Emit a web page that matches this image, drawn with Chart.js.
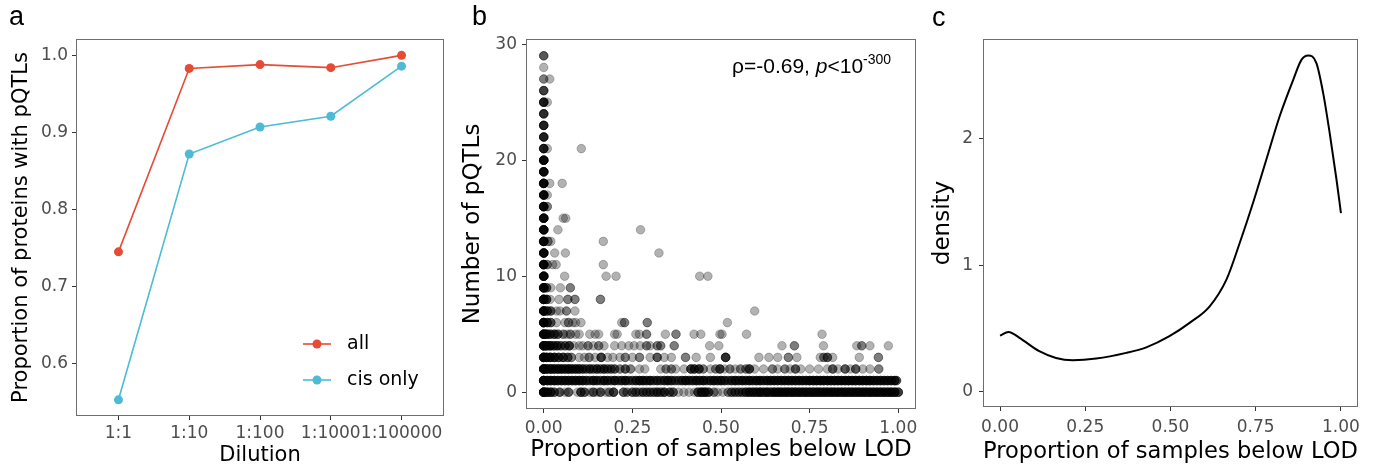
<!DOCTYPE html>
<html>
<head>
<meta charset="utf-8">
<script src="https://cdn.jsdelivr.net/npm/chart.js@4.4.1/dist/chart.umd.min.js"></script>
<style>
  html, body { margin: 0; padding: 0; background: #fff; }
  body { width: 1385px; height: 473px; position: relative; overflow: hidden; }
  .panel { position: absolute; top: 0; height: 473px; }
  .tag { position: absolute; font-family: "Liberation Sans", Arial, sans-serif; font-size: 27px; line-height: 27px; color: #000; }
  .note { position: absolute; font-family: "Liberation Sans", Arial, sans-serif; font-size: 21px; line-height: 21px; white-space: nowrap; color: #000; }
  .note .sup { font-size: 14px; position: relative; top: -9px; }
</style>
</head>
<body>
<div class="panel" style="left:0;width:455px"><canvas id="chartA"></canvas></div>
<div class="panel" style="left:455px;width:470px"><canvas id="chartB"></canvas></div>
<div class="panel" style="left:925px;width:460px"><canvas id="chartC"></canvas></div>

<div class="tag" style="left:9px;top:3px">a</div>
<div class="tag" style="left:472px;top:3px">b</div>
<div class="tag" style="left:932px;top:4px">c</div>
<div class="note" style="left:732px;top:55px">ρ=-0.69, <i>p</i>&lt;10<span class="sup">-300</span></div>

<script>
// Panel a: proportion of proteins with pQTLs by dilution
const dilutions = ['1:1', '1:10', '1:100', '1:1000', '1:100000'];
const allProp = [0.745, 0.983, 0.988, 0.984, 1.0];
const cisProp = [0.553, 0.872, 0.907, 0.921, 0.986];
const propTicks = [0.6, 0.7, 0.8, 0.9, 1.0];

// Panel b: number of pQTLs vs proportion below LOD
// index = number of pQTLs, each entry [proportion below LOD, proteins at that spot]
const pqtlRows = [
  /* 0 */ [[0, 12], [0.01, 6], [0.02, 5], [0.03, 3], [0.045, 3], [0.06, 1], [0.07, 3], [0.095, 1], [0.105, 4], [0.115, 3],
    [0.13, 1], [0.14, 3], [0.15, 1], [0.16, 3], [0.175, 1], [0.185, 2], [0.197, 4], [0.225, 3], [0.235, 2], [0.25, 3],
    [0.26, 3], [0.27, 2], [0.28, 3], [0.29, 3], [0.3, 3], [0.31, 3], [0.32, 4], [0.33, 3], [0.34, 4], [0.355, 3],
    [0.365, 3], [0.38, 1], [0.395, 1], [0.41, 1], [0.425, 1], [0.435, 4], [0.445, 6], [0.455, 6], [0.465, 4], [0.48, 2],
    [0.49, 1], [0.505, 1], [0.52, 2], [0.53, 3], [0.54, 3], [0.55, 3], [0.56, 3], [0.57, 4], [0.58, 5], [0.59, 5],
    [0.6, 5], [0.61, 6], [0.62, 5], [0.63, 6], [0.64, 5], [0.65, 6], [0.66, 6], [0.67, 6], [0.68, 6], [0.69, 6],
    [0.7, 6], [0.71, 6], [0.72, 6], [0.73, 6], [0.74, 6], [0.75, 6], [0.76, 6], [0.77, 6], [0.78, 6], [0.79, 6],
    [0.8, 6], [0.81, 6], [0.82, 6], [0.83, 6], [0.84, 6], [0.85, 6], [0.86, 6], [0.87, 6], [0.88, 6], [0.89, 6],
    [0.9, 6], [0.91, 6], [0.92, 6], [0.93, 6], [0.94, 6], [0.95, 6], [0.96, 6], [0.97, 6], [0.98, 6], [0.99, 6], [1.0, 4]],
  /* 1 */ [[0, 12], [0.01, 6], [0.02, 6], [0.03, 6], [0.04, 5], [0.05, 5], [0.06, 5], [0.07, 5], [0.08, 5], [0.09, 5],
    [0.1, 5], [0.11, 5], [0.12, 4], [0.13, 3], [0.14, 5], [0.15, 4], [0.16, 3], [0.17, 5], [0.18, 4], [0.19, 3],
    [0.2, 5], [0.21, 3], [0.22, 4], [0.23, 5], [0.24, 3], [0.25, 3], [0.26, 4], [0.27, 5], [0.28, 5], [0.29, 4],
    [0.3, 5], [0.31, 3], [0.32, 4], [0.33, 3], [0.34, 4], [0.35, 5], [0.36, 4], [0.37, 3], [0.38, 3], [0.39, 4],
    [0.4, 5], [0.41, 4], [0.42, 4], [0.43, 5], [0.44, 4], [0.45, 5], [0.46, 3], [0.47, 4], [0.48, 5], [0.49, 4],
    [0.5, 5], [0.51, 4], [0.52, 3], [0.53, 4], [0.54, 5], [0.55, 4], [0.56, 5], [0.57, 4], [0.58, 5], [0.59, 4],
    [0.6, 5], [0.61, 5], [0.62, 4], [0.63, 5], [0.64, 5], [0.65, 5], [0.66, 5], [0.67, 5], [0.68, 5], [0.69, 5],
    [0.7, 5], [0.71, 5], [0.72, 5], [0.73, 5], [0.74, 5], [0.75, 6], [0.76, 6], [0.77, 6], [0.78, 6], [0.79, 6],
    [0.8, 6], [0.81, 6], [0.82, 6], [0.83, 6], [0.84, 6], [0.85, 6], [0.86, 6], [0.87, 6], [0.88, 6], [0.89, 6],
    [0.9, 6], [0.91, 6], [0.92, 6], [0.93, 5], [0.94, 5], [0.95, 5], [0.96, 5], [0.97, 5], [0.98, 5], [0.99, 5], [0.995, 3]],
  /* 2 */ [[0, 12], [0.01, 7], [0.02, 7], [0.03, 6], [0.04, 6], [0.05, 6], [0.06, 5], [0.07, 6], [0.08, 5], [0.09, 5],
    [0.1, 5], [0.11, 4], [0.12, 3], [0.13, 4], [0.14, 3], [0.15, 4], [0.16, 3], [0.17, 4], [0.18, 3], [0.19, 3],
    [0.2, 3], [0.215, 2], [0.23, 3], [0.245, 2], [0.27, 1], [0.285, 1], [0.33, 1], [0.345, 2], [0.36, 2], [0.372, 1],
    [0.396, 1], [0.415, 4], [0.425, 4], [0.438, 4], [0.45, 2], [0.47, 1], [0.485, 2], [0.497, 4], [0.51, 1], [0.525, 2],
    [0.54, 1], [0.555, 2], [0.57, 2], [0.58, 4], [0.595, 1], [0.62, 1], [0.645, 2], [0.66, 1], [0.68, 2], [0.695, 1],
    [0.71, 3], [0.725, 1], [0.75, 1], [0.775, 1], [0.8, 1], [0.815, 3], [0.83, 1], [0.85, 3], [0.865, 1], [0.88, 3],
    [0.9, 1], [0.92, 1], [0.945, 2]],
  /* 3 */ [[0, 10], [0.008, 6], [0.018, 6], [0.03, 5], [0.042, 4], [0.055, 4], [0.068, 3], [0.078, 2], [0.1, 1], [0.115, 1],
    [0.128, 2], [0.145, 1], [0.162, 4], [0.18, 1], [0.195, 1], [0.215, 1], [0.23, 2], [0.25, 1], [0.27, 2], [0.3, 1],
    [0.32, 3], [0.34, 1], [0.36, 1], [0.4, 2], [0.43, 1], [0.47, 1], [0.513, 5], [0.607, 1], [0.635, 1], [0.66, 1],
    [0.69, 2], [0.714, 1], [0.78, 1], [0.79, 2], [0.8, 3], [0.815, 1], [0.89, 1], [0.944, 2]],
  /* 4 */ [[0, 10], [0.008, 6], [0.018, 6], [0.028, 4], [0.038, 4], [0.048, 3], [0.06, 3], [0.072, 4], [0.085, 1], [0.1, 1],
    [0.11, 1], [0.125, 2], [0.14, 1], [0.155, 2], [0.17, 1], [0.2, 1], [0.22, 1], [0.24, 1], [0.255, 1], [0.272, 1],
    [0.29, 2], [0.3, 1], [0.32, 2], [0.33, 2], [0.368, 2], [0.468, 1], [0.494, 1], [0.672, 1], [0.707, 2], [0.789, 1],
    [0.883, 1], [0.897, 2], [0.92, 1], [0.972, 1]],
  /* 5 */ [[0, 10], [0.008, 6], [0.018, 4], [0.03, 4], [0.04, 3], [0.055, 2], [0.065, 1], [0.075, 2], [0.09, 1], [0.1, 1],
    [0.13, 1], [0.145, 1], [0.155, 1], [0.2, 1], [0.207, 1], [0.26, 1], [0.27, 1], [0.29, 2], [0.343, 1], [0.373, 2],
    [0.424, 1], [0.443, 1], [0.497, 1], [0.503, 1], [0.572, 1], [0.785, 1]],
  /* 6 */ [[0, 10], [0.01, 4], [0.02, 3], [0.036, 1], [0.06, 1], [0.07, 2], [0.082, 1], [0.09, 1], [0.105, 1], [0.22, 1],
    [0.228, 2], [0.292, 2], [0.518, 1]],
  /* 7 */ [[0, 10], [0.01, 4], [0.02, 3], [0.036, 1], [0.046, 1], [0.064, 2], [0.088, 1], [0.595, 1]],
  /* 8 */ [[0, 10], [0.008, 4], [0.018, 1], [0.043, 1], [0.068, 2], [0.088, 2], [0.16, 2]],
  /* 9 */ [[0, 10], [0.008, 3], [0.02, 1], [0.047, 1], [0.075, 2]],
  /* 10 */ [[0, 9], [0.059, 1], [0.176, 1], [0.204, 1], [0.44, 1], [0.463, 1]],
  /* 11 */ [[0, 9], [0.01, 2], [0.025, 1], [0.035, 1], [0.168, 1]],
  /* 12 */ [[0, 9], [0.031, 1], [0.061, 1], [0.325, 1]],
  /* 13 */ [[0, 9], [0.012, 2], [0.02, 1], [0.168, 1]],
  /* 14 */ [[0, 9], [0.04, 1], [0.273, 1]],
  /* 15 */ [[0, 9], [0.055, 1], [0.062, 1]],
  /* 16 */ [[0, 9], [0.01, 2]],
  /* 17 */ [[0, 9], [0.01, 1]],
  /* 18 */ [[0, 9], [0.017, 1], [0.052, 1]],
  /* 19 */ [[0, 9]],
  /* 20 */ [[0, 9]],
  /* 21 */ [[0, 6], [0.01, 1], [0.106, 1]],
  /* 22 */ [[0, 6]],
  /* 23 */ [[0, 6]],
  /* 24 */ [[0, 5]],
  /* 25 */ [[0, 6], [0.01, 1]],
  /* 26 */ [[0, 4]],
  /* 27 */ [[0, 2], [0.017, 1]],
  /* 28 */ [[0, 1]],
  /* 29 */ [[0, 3]]
];
const lodTicks = [0, 0.25, 0.5, 0.75, 1];
const pqtlTicks = [0, 10, 20, 30];

// Panel c: density of proportion below LOD
const densityX = [0, 0.025, 0.057, 0.115, 0.164, 0.213, 0.282, 0.37, 0.429, 0.497, 0.556, 0.615, 0.664,
  0.703, 0.742, 0.781, 0.82, 0.86, 0.884, 0.904, 0.928, 0.948, 0.967, 0.987, 1.0];
const densityY = [0.445, 0.474, 0.427, 0.321, 0.268, 0.25, 0.263, 0.308, 0.352, 0.44, 0.545, 0.676, 0.887,
  1.177, 1.493, 1.835, 2.177, 2.467, 2.625, 2.659, 2.6, 2.36, 2.045, 1.677, 1.414];
const densityTicks = [0, 1, 2];

const tickFont = { family: 'DejaVu Sans', size: 17 };
const tickGray = '#4d4d4d';

// full box round the plotting area (theme_bw style)
const panelBorder = {
    id: 'panelBorder',
    afterDatasetsDraw(chart) {
        const { ctx, chartArea: a } = chart;
        ctx.save();
        ctx.strokeStyle = '#6e6e6e';
        ctx.lineWidth = 1;
        ctx.strokeRect(Math.round(a.left) + 0.5, Math.round(a.top) + 0.5,
            Math.round(a.right - a.left) - 1, Math.round(a.bottom - a.top) - 1);
        ctx.restore();
    }
};

// legend drawn inside panel a
const insideLegend = {
    id: 'insideLegend',
    afterDraw(chart, args, opts) {
        const ctx = chart.ctx;
        ctx.save();
        chart.data.datasets.forEach((ds, i) => {
            const y = opts.y + i * opts.gap;
            ctx.strokeStyle = ds.borderColor;
            ctx.lineWidth = 1.6;
            ctx.beginPath();
            ctx.moveTo(opts.x, y);
            ctx.lineTo(opts.x + 28, y);
            ctx.stroke();
            ctx.fillStyle = ds.borderColor;
            ctx.beginPath();
            ctx.arc(opts.x + 14, y, 4.5, 0, Math.PI * 2);
            ctx.fill();
            ctx.fillStyle = '#000';
            ctx.font = '19px "DejaVu Sans"';
            ctx.textBaseline = 'middle';
            ctx.fillText(ds.label, opts.x + 44, y);
        });
        ctx.restore();
    }
};

function axisBase(ticksList, fmt, pad) {
    return {
        type: 'linear',
        afterBuildTicks: s => { s.ticks = ticksList.map(v => ({ value: v })); },
        ticks: { callback: fmt, autoSkip: false, maxRotation: 0, color: tickGray, font: tickFont, padding: pad },
        grid: { drawOnChartArea: false, tickLength: 4, color: '#333' },
        border: { display: false }
    };
}

function axisTitle(text, size, padding) {
    return { display: true, text: text, color: '#000', font: { family: 'DejaVu Sans', size: size }, padding: padding };
}

Chart.defaults.animation = false;
Chart.defaults.plugins.legend.display = false;
Chart.defaults.plugins.tooltip.enabled = false;

// Panel a
new Chart(document.getElementById('chartA'), {
    type: 'line',
    data: {
        datasets: [
            { label: 'all', data: allProp.map((v, i) => ({ x: i + 1, y: v })), borderColor: '#E64B35', backgroundColor: '#E64B35',
              borderWidth: 1.6, pointRadius: 4.5, pointBorderWidth: 0, order: 1 },
            { label: 'cis only', data: cisProp.map((v, i) => ({ x: i + 1, y: v })), borderColor: '#4DBBD5', backgroundColor: '#4DBBD5',
              borderWidth: 1.6, pointRadius: 4.5, pointBorderWidth: 0, order: 0 }
        ]
    },
    options: {
        responsive: true,
        maintainAspectRatio: false,
        layout: { padding: { top: 39, right: 11, left: 0, bottom: 0 } },
        scales: {
            x: Object.assign(axisBase(dilutions.map((d, i) => i + 1), v => dilutions[v - 1], 3), {
                min: 0.4, max: 5.6,
                afterFit: s => { s.height = 57; },
                title: axisTitle('Dilution', 21, { top: 0, bottom: 5 })
            }),
            y: Object.assign(axisBase(propTicks, v => v.toFixed(1), 4), {
                min: 0.532, max: 1.0212,
                afterFit: s => { s.width = 76; },
                title: axisTitle('Proportion of proteins with pQTLs', 21, { top: 9, bottom: 0 })
            })
        },
        plugins: { insideLegend: { x: 303, y: 344, gap: 36 } }
    },
    plugins: [panelBorder, insideLegend]
});

// Panel b
const scatterPoints = [];
pqtlRows.forEach((row, count) => {
    row.forEach(([lod, n]) => {
        for (let k = 0; k < n; k++) scatterPoints.push({ x: lod, y: count });
    });
});

new Chart(document.getElementById('chartB'), {
    type: 'scatter',
    data: {
        datasets: [{
            data: scatterPoints,
            backgroundColor: 'rgba(0,0,0,0.3)',
            borderColor: 'rgba(0,0,0,0.3)',
            borderWidth: 0.8,
            pointRadius: 4.3
        }]
    },
    options: {
        responsive: true,
        maintainAspectRatio: false,
        layout: { padding: { top: 39, right: 9, left: 0, bottom: 0 } },
        scales: {
            x: Object.assign(axisBase(lodTicks, v => v.toFixed(2), 5), {
                min: -0.05, max: 1.05,
                afterFit: s => { s.height = 64; },
                title: axisTitle('Proportion of samples below LOD', 23, { top: 0, bottom: 9 })
            }),
            y: Object.assign(axisBase(pqtlTicks, v => String(v), 5), {
                min: -1.45, max: 30.45,
                afterFit: s => { s.width = 71; },
                title: axisTitle('Number of pQTLs', 23, { top: 4, bottom: 0 })
            })
        }
    },
    plugins: [panelBorder]
});

// Panel c
new Chart(document.getElementById('chartC'), {
    type: 'line',
    data: {
        datasets: [{
            data: densityX.map((x, i) => ({ x: x, y: densityY[i] })),
            borderColor: '#000',
            borderWidth: 2,
            pointRadius: 0,
            cubicInterpolationMode: 'monotone',
            fill: false
        }]
    },
    options: {
        responsive: true,
        maintainAspectRatio: false,
        layout: { padding: { top: 39, right: 27, left: 0, bottom: 0 } },
        scales: {
            x: Object.assign(axisBase(lodTicks, v => v.toFixed(2), 6), {
                min: -0.05, max: 1.05,
                afterFit: s => { s.height = 66; },
                title: axisTitle('Proportion of samples below LOD', 23, { top: 0, bottom: 7 })
            }),
            y: Object.assign(axisBase(densityTicks, v => String(v), 6), {
                min: -0.12, max: 2.79,
                afterFit: s => { s.width = 58; },
                title: axisTitle('density', 23, { top: 4, bottom: 0 })
            })
        }
    },
    plugins: [panelBorder]
});
</script>
</body>
</html>
